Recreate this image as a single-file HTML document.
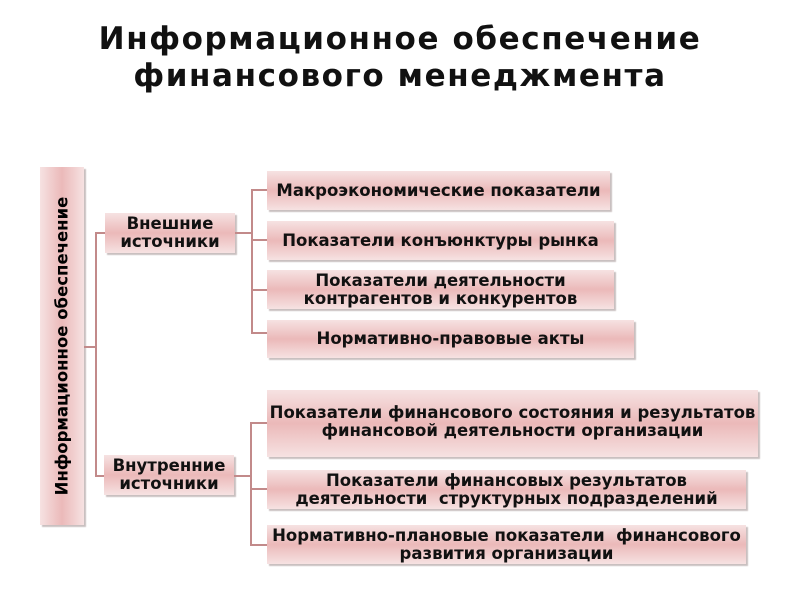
<!DOCTYPE html>
<html><head><meta charset="utf-8"><style>
body{margin:0;width:800px;height:600px;background:#fff;position:relative;overflow:hidden;font-family:"DejaVu Sans","Liberation Sans",sans-serif;}
.t{position:absolute;left:0;width:800px;text-align:center;font-weight:bold;font-size:31px;letter-spacing:1.6px;color:#111;}
.b{position:absolute;display:flex;align-items:center;justify-content:center;text-align:center;font-weight:bold;font-size:16.5px;line-height:18px;color:#111;white-space:nowrap;
background:linear-gradient(#f6e2e2,#ebb9b9 50%,#f6e2e2);box-shadow:2px 2px 1px #c9c0c0;}
.l{position:absolute;background:#c28a8a;}
.v{position:absolute;left:40px;top:167px;width:44px;height:358px;background:linear-gradient(90deg,#f6e2e2,#ebb9b9 50%,#f6e2e2);box-shadow:2px 2px 1px #c9c0c0;}
.v span{position:absolute;left:22px;top:179px;transform:translate(-50%,-50%) rotate(-90deg);white-space:nowrap;font-weight:bold;font-size:16.5px;}
</style></head><body>
<div class="t" style="top:21px">Информационное обеспечение</div>
<div class="t" style="top:58px">финансового менеджмента</div>
<div class="v"><span>Информационное обеспечение</span></div>
<div class="l" style="left:84px;top:346px;width:11px;height:2px"></div>
<div class="l" style="left:95px;top:232px;width:2px;height:245px"></div>
<div class="l" style="left:95px;top:232px;width:10px;height:2px"></div>
<div class="l" style="left:95px;top:475px;width:10px;height:2px"></div>
<div class="b" style="left:105px;top:213px;width:130px;height:40px">Внешние<br>источники</div>
<div class="b" style="left:104px;top:455px;width:130px;height:40px">Внутренние<br>источники</div>
<div class="l" style="left:235px;top:232px;width:17px;height:2px"></div>
<div class="l" style="left:251px;top:189px;width:2px;height:145px"></div>
<div class="l" style="left:251px;top:189px;width:16px;height:2px"></div>
<div class="l" style="left:251px;top:239px;width:16px;height:2px"></div>
<div class="l" style="left:251px;top:289px;width:16px;height:2px"></div>
<div class="l" style="left:251px;top:332px;width:16px;height:2px"></div>
<div class="b" style="left:267px;top:171px;width:343px;height:39px">Макроэкономические показатели</div>
<div class="b" style="left:267px;top:221px;width:347px;height:39px">Показатели конъюнктуры рынка</div>
<div class="b" style="left:267px;top:270px;width:347px;height:39px">Показатели деятельности<br>контрагентов и конкурентов</div>
<div class="b" style="left:267px;top:320px;width:367px;height:38px">Нормативно-правовые акты</div>
<div class="l" style="left:234px;top:475px;width:17px;height:2px"></div>
<div class="l" style="left:250px;top:422px;width:2px;height:124px"></div>
<div class="l" style="left:250px;top:422px;width:17px;height:2px"></div>
<div class="l" style="left:250px;top:488px;width:17px;height:2px"></div>
<div class="l" style="left:250px;top:544px;width:17px;height:2px"></div>
<div class="b" style="left:267px;top:390px;width:491px;height:67px;align-items:flex-start;padding-top:0"><div style="margin-top:14px">Показатели финансового состояния и результатов<br>финансовой деятельности организации</div></div>
<div class="b" style="left:267px;top:470px;width:479px;height:39px">Показатели финансовых результатов<br>деятельности&nbsp; структурных подразделений</div>
<div class="b" style="left:267px;top:525px;width:479px;height:39px">Нормативно-плановые показатели&nbsp; финансового<br>развития организации</div>
</body></html>
